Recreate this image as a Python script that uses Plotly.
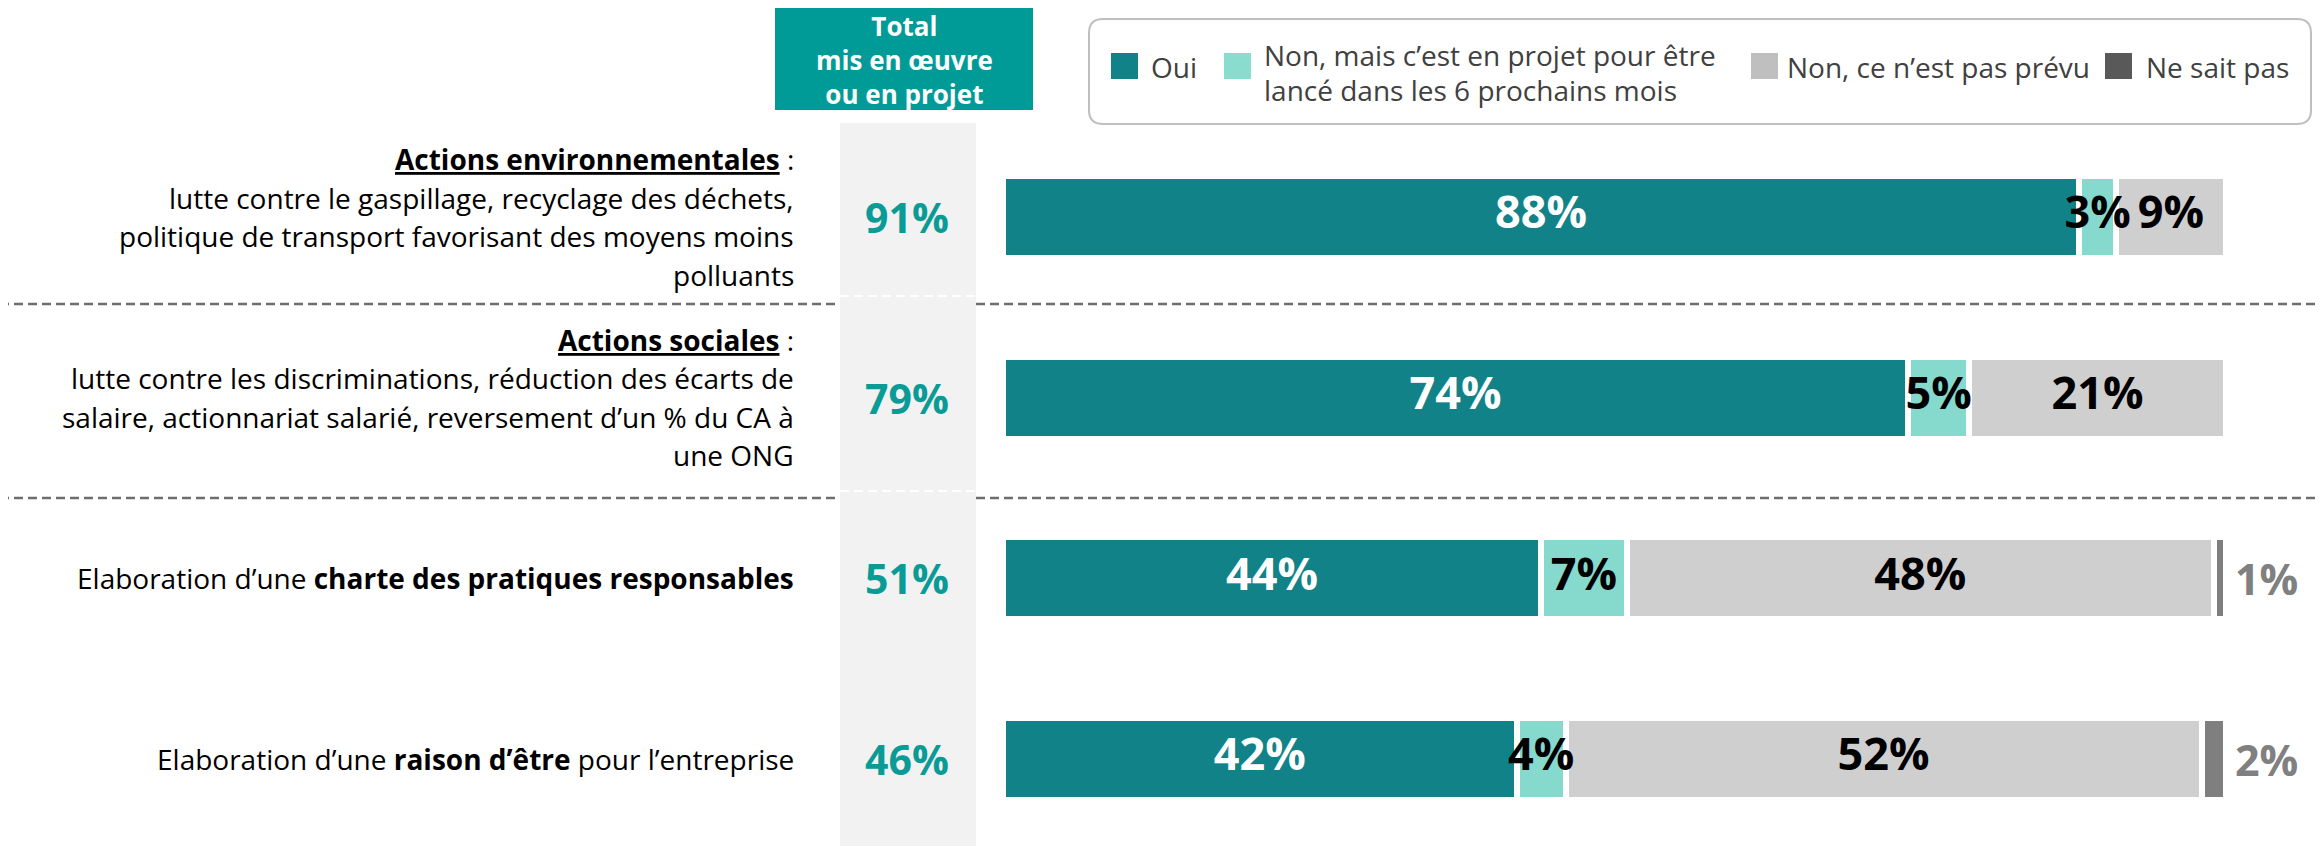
import plotly.graph_objects as go

W, H = 2323, 846

# ---------------- data ----------------
label_lines = [
    ["<b><u>Actions environnementales</u></b> :",
     "lutte contre le gaspillage, recyclage des déchets,",
     "politique de transport favorisant des moyens moins",
     "polluants"],
    ["<b><u>Actions sociales</u></b> :",
     "lutte contre les discriminations, réduction des écarts de",
     "salaire, actionnariat salarié, reversement d’un % du CA à",
     "une ONG"],
    ["Elaboration d’une <b>charte des pratiques responsables</b>"],
    ["Elaboration d’une <b>raison d’être</b> pour l’entreprise"],
]
totals = [91, 79, 51, 46]
series_names = ["Oui", "Non, mais c’est en projet pour être<br>lancé dans les 6 prochains mois",
                "Non, ce n’est pas prévu", "Ne sait pas"]
oui = [88, 74, 44, 42]
non_projet = [3, 5, 7, 4]
non_prevu = [9, 21, 48, 52]
ne_sait_pas = [0, 0, 1, 2]
header_lines = ["Total", "mis en œuvre", "ou en projet"]

series = [oui, non_projet, non_prevu, ne_sait_pas]
bar_colors = ["#118288", "#86dacd", "#d0cfd0", "#7f7f7f"]
legend_colors = ["#118288", "#8adccf", "#bfbfbf", "#595959"]
label_colors = ["white", "black", "black", "#808080"]

FONT = "Open Sans"
TEAL_TXT = "#0a9b97"
OFF = 8  # page body margin compensation

def px(x):
    return (x - OFF) / W

def py(y):
    return 1 - (y - OFF) / H

cats = list(range(len(label_lines)))

fig = go.Figure()
for name, vals, col in zip(series_names, series, bar_colors):
    fig.add_trace(go.Bar(
        y=cats, x=vals, orientation="h", name=name,
        marker=dict(color=col, line=dict(color="white", width=6)),
        width=0.454, showlegend=False, hoverinfo="skip",
    ))

# segment labels (centered in segments)
lx, ly, lt, lc = [], [], [], []
for i in cats:
    start = 0
    for s, vals in enumerate(series):
        v = vals[i]
        if v > 0 and s < 3:
            lx.append(start + v / 2)
            ly.append(i)
            lt.append(f"<b>{v}%</b>")
            lc.append(label_colors[s])
        start += v
fig.add_trace(go.Scatter(
    x=lx, y=ly, text=lt, mode="text", showlegend=False, hoverinfo="skip",
    textfont=dict(family=FONT, size=45, color=lc), textposition="middle center",
))

annotations = []
shapes = []

y0c, step = 217, 180.67
def cat_y(i):
    return y0c + step * i

# outside labels for "Ne sait pas"
for i in cats:
    v = ne_sait_pas[i]
    if v > 0:
        annotations.append(dict(
            x=px(2266), y=py(cat_y(i)), xref="paper", yref="paper",
            text=f"<b>{v}%</b>", showarrow=False, xanchor="center", yanchor="middle",
            font=dict(family=FONT, size=43, color=label_colors[3]),
        ))

# totals column
shapes.append(dict(type="rect", xref="paper", yref="paper", layer="below",
                   x0=px(840), x1=px(976), y0=py(860), y1=py(123),
                   fillcolor="#f2f2f2", line=dict(width=0)))
for i, t in enumerate(totals):
    annotations.append(dict(
        x=px(907), y=py(cat_y(i)), xref="paper", yref="paper",
        text=f"<b>{t}%</b>", showarrow=False, xanchor="center", yanchor="middle",
        font=dict(family=FONT, size=41, color=TEAL_TXT),
    ))

# header box
shapes.append(dict(type="rect", xref="paper", yref="paper",
                   x0=px(775), x1=px(1033), y0=py(110), y1=py(0),
                   fillcolor="#009b97", line=dict(width=0)))
annotations.append(dict(
    x=px(904), y=py(60), xref="paper", yref="paper",
    text="<br>".join(f"<b>{l}</b>" for l in header_lines),
    showarrow=False, xanchor="center", yanchor="middle", align="center",
    font=dict(family=FONT, size=26, color="white"),
))

# left labels (one annotation per line for exact line spacing)
LSP = 38.5
for i, lines in enumerate(label_lines):
    n = len(lines)
    for k, line in enumerate(lines):
        yy = cat_y(i) + (k - (n - 1) / 2) * LSP
        annotations.append(dict(
            x=px(796), y=py(yy), xref="paper", yref="paper",
            text=line, showarrow=False, xanchor="right", yanchor="middle",
            font=dict(family=FONT, size=28, color="black"),
        ))

# dashed separators
for yd, yw in [(304, 296), (498, 491)]:
    for xa, xb in [(0, 840), (976, W + 10)]:
        shapes.append(dict(type="line", xref="paper", yref="paper",
                           x0=px(xa), x1=px(xb), y0=py(yd), y1=py(yd),
                           line=dict(color="#6e6e6e", width=2.5, dash="9px,5px")))
    shapes.append(dict(type="line", xref="paper", yref="paper",
                       x0=px(840), x1=px(976), y0=py(yw), y1=py(yw),
                       line=dict(color="white", width=2, dash="9px,5px")))

# custom legend box with rounded corners
bx0, bx1, by0, by1, r = 1089, 2311, 19, 124, 14
def P(x, y):
    return f"{px(x)},{py(y)}"
path = (f"M {P(bx0 + r, by0)} L {P(bx1 - r, by0)} Q {P(bx1, by0)} {P(bx1, by0 + r)} "
        f"L {P(bx1, by1 - r)} Q {P(bx1, by1)} {P(bx1 - r, by1)} "
        f"L {P(bx0 + r, by1)} Q {P(bx0, by1)} {P(bx0, by1 - r)} "
        f"L {P(bx0, by0 + r)} Q {P(bx0, by0)} {P(bx0 + r, by0)} Z")
shapes.append(dict(type="path", xref="paper", yref="paper", path=path,
                   fillcolor="white", line=dict(color="#bfbfbf", width=2)))
leg_sq_x = [1111, 1224, 1751, 2105]
leg_txt_x = [1149, 1262, 1785, 2144]
for k, name in enumerate(series_names):
    shapes.append(dict(type="rect", xref="paper", yref="paper",
                       x0=px(leg_sq_x[k]), x1=px(leg_sq_x[k] + 27), y0=py(79), y1=py(53),
                       fillcolor=legend_colors[k], line=dict(width=0)))
    parts = name.split("<br>")
    n = len(parts)
    for j, part in enumerate(parts):
        yy = 55 + 35 * j if n > 1 else 67
        annotations.append(dict(
            x=px(leg_txt_x[k]), y=py(yy), xref="paper", yref="paper",
            text=part, showarrow=False, xanchor="left", yanchor="middle",
            font=dict(family=FONT, size=28, color="#404040"),
        ))

fig.update_layout(
    width=W, height=H,
    margin=dict(l=0, r=0, t=0, b=0),
    paper_bgcolor="white", plot_bgcolor="rgba(0,0,0,0)",
    barmode="stack",
    xaxis=dict(domain=[px(1003), px(2226)], range=[0, 100], visible=False, fixedrange=True),
    yaxis=dict(domain=[0, 1],
               range=[(H + OFF - y0c) / step, (OFF - y0c) / step],
               visible=False, fixedrange=True),
    shapes=shapes, annotations=annotations,
    font=dict(family=FONT),
)

fig.write_html("out.html")
